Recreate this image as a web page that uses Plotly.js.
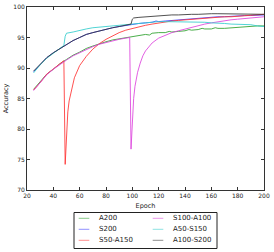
<!DOCTYPE html>
<html><head><meta charset="utf-8">
<script src="https://cdn.plot.ly/plotly-3.0.1.min.js"></script>
<style>html,body{margin:0;padding:0;background:#fff}#chart{width:274px;height:252px}</style>
</head><body><div id="chart"></div>
<script>
// Series names (drawing order)
var names = ["A200","S200","S50-A150","S100-A100","A50-S150","A100-S200"];
var colors = ["#2ca02c","#3a3aff","#ff3333","#dd44dd","#33cccc","#333333"];

var xA200 = [25,30,35,40,45,50,55,60,65,70,75,80,85,90,95,100,105,110,113,115,120,125,128,130,135,140,143,145,150,153,155,160,163,165,170,175,180,185,190,195,200];
var yA200 = [86.5,87.7,89.0,89.8,90.7,91.4,92.1,92.6,93.2,93.6,94.0,94.3,94.6,94.8,95.0,95.2,95.3,95.5,95.4,95.7,95.8,95.8,96.0,95.9,96.0,96.1,96.3,96.2,96.3,96.5,96.4,96.4,96.6,96.5,96.5,96.6,96.7,96.8,96.8,96.9,96.9];

var xS200 = [25,30,35,40,45,50,55,60,65,70,75,80,85,90,95,100,105,110,115,118,120,125,130,135,140,145,150,155,160,165,170,175,180,185,190,195,200];
var yS200 = [89.4,90.6,91.7,92.5,93.2,93.9,94.5,95.0,95.5,95.8,96.1,96.4,96.6,96.8,97.0,97.2,97.3,97.4,97.5,97.7,97.6,97.7,97.8,97.9,98.0,98.1,98.2,98.2,98.3,98.4,98.4,98.5,98.5,98.6,98.6,98.7,98.7];

var xS50A150 = [25,30,35,40,45,48,49,50,51,52,54,56,60,65,70,75,80,85,90,95,100,105,110,115,120,125,130,135,140,145,150,155,160,165,170,175,180,185,190,195,200];
var yS50A150 = [86.4,87.6,89.0,89.9,90.7,91.2,74.2,80.0,82.8,84.6,86.8,88.4,90.4,91.9,93.1,94.0,94.7,95.3,95.8,96.2,96.5,96.8,97.0,97.2,97.4,97.6,97.7,97.8,97.9,98.0,98.1,98.2,98.3,98.3,98.4,98.4,98.5,98.5,98.6,98.7,98.8];

var xS100A100 = [25,30,35,40,45,50,55,60,65,70,75,80,85,90,95,98,99,100,101,102,104,106,108,110,115,120,125,130,135,140,145,150,155,160,165,170,175,180,185,190,195,200];
var yS100A100 = [86.3,87.6,88.9,89.8,90.6,91.3,92.0,92.5,93.1,93.5,93.9,94.2,94.5,94.7,94.9,95.0,76.7,82.0,85.0,87.0,89.3,90.8,92.0,92.8,94.1,94.9,95.4,95.8,96.1,96.4,96.7,96.9,97.2,97.4,97.6,97.8,97.9,98.0,98.1,98.2,98.3,98.4];

var xA50S150 = [25,30,35,40,45,48,49,50,55,60,65,70,75,80,85,90,95,100,105,110,115,120,125,130,135,140,145,150,155,160,165,170,175,180,185,190,195,200];
var yA50S150 = [89.2,90.5,91.6,92.4,93.2,93.7,95.2,95.7,95.9,96.2,96.4,96.6,96.7,96.9,97.0,97.1,97.2,97.3,97.4,97.4,97.5,97.6,97.6,97.6,97.6,97.6,97.5,97.5,97.5,97.4,97.4,97.3,97.2,97.2,97.1,97.1,96.9,96.8];

var xA100S200 = [25,30,35,40,45,50,55,60,65,70,75,80,85,90,95,98,99,100,101,105,110,115,120,125,130,135,140,145,150,155,160,165,170,175,180,185,190,195,200];
var yA100S200 = [89.5,90.6,91.7,92.5,93.2,93.9,94.5,95.0,95.5,95.8,96.1,96.4,96.6,96.8,97.0,97.1,97.2,98.0,98.2,98.3,98.4,98.5,98.6,98.6,98.7,98.7,98.8,98.8,98.8,98.9,98.9,98.9,98.9,98.9,98.9,98.9,98.9,98.8,98.8];

var xs = [xA200,xS200,xS50A150,xS100A100,xA50S150,xA100S200];
var ys = [yA200,yS200,yS50A150,yS100A100,yA50S150,yA100S200];

var xTicks = [20,40,60,80,100,120,140,160,180,200];
var yTicks = [70,75,80,85,90,95,100];

var traces = names.map(function(n,i){
  return {x: xs[i], y: ys[i], name: n, type: 'scatter', mode: 'lines',
          line: {color: colors[i], width: 1}, opacity: 0.85, showlegend: false};
});

// Manual two-column legend (matches matplotlib layout)
var W = 237, H = 183; // plot area size in px
function px(x){ return (x - 27) / W; }
function py(y){ return (190 - y) / H; }
var legendCols = [[0,1,2],[3,4,5]];
var colLineX = [78.7, 152.7];
var colTextX = [97.0, 171.0];
var rowY = [218.3, 229.3, 240.3];
var shapes = [{type:'rect', xref:'paper', yref:'paper', x0:px(74), x1:px(217), y0:py(212.5), y1:py(248.5),
  line:{color:'#222', width:1}, fillcolor:'rgba(255,255,255,0)'}];
var annotations = [];
legendCols.forEach(function(col, c){
  col.forEach(function(idx, r){
    shapes.push({type:'line', xref:'paper', yref:'paper', x0:px(colLineX[c]), x1:px(colLineX[c]+10.6),
      y0:py(rowY[r]), y1:py(rowY[r]), line:{color:colors[idx], width:1}, opacity:0.55});
    annotations.push({xref:'paper', yref:'paper', x:px(colTextX[c]), y:py(rowY[r]), text:names[idx],
      showarrow:false, xanchor:'left', yanchor:'middle', font:{size:7, color:'#222', family:'DejaVu Sans'}});
  });
});

var layout = {
  width: 274, height: 252,
  margin: {l: 27, r: 10, t: 7, b: 62},
  paper_bgcolor: '#fff', plot_bgcolor: '#fff',
  font: {family: 'DejaVu Sans', size: 6, color: '#222'},
  showlegend: false,
  xaxis: {range: [20, 200], tickvals: xTicks, ticktext: xTicks.map(String), ticks: 'inside', ticklen: 3,
          tickcolor: '#333', showline: true, linecolor: '#333', linewidth: 1, mirror: 'ticks',
          showgrid: false, zeroline: false, tickfont: {size: 6, color: '#222'},
          title: {text: 'Epoch', font: {size: 6.5, color: '#222'}, standoff: 5}},
  yaxis: {range: [70, 100], tickvals: yTicks, ticktext: yTicks.map(String), ticks: 'inside', ticklen: 3,
          tickcolor: '#333', showline: true, linecolor: '#333', linewidth: 1, mirror: 'ticks',
          showgrid: false, zeroline: false, tickfont: {size: 6, color: '#222'},
          title: {text: 'Accuracy', font: {size: 6.5, color: '#222'}, standoff: 4}},
  shapes: shapes,
  annotations: annotations
};
Plotly.newPlot('chart', traces, layout, {displayModeBar: false, staticPlot: true});
</script>
</body></html>
